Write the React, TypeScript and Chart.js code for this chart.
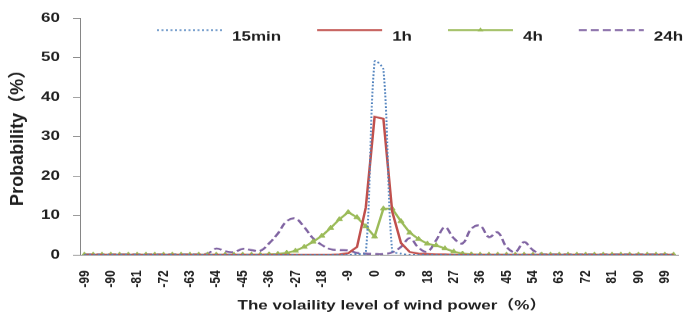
import React, { useEffect, useRef } from 'react';
import { Chart, registerables } from 'chart.js';

Chart.register(...registerables);

// Category values of the x axis (volatility level, %)
const categories = [
  -99, -96, -93, -90, -87, -84, -81, -78, -75, -72, -69, -66, -63, -60, -57, -54, -51, -48, -45, -42,
  -39, -36, -33, -30, -27, -24, -21, -18, -15, -12, -9, -6, -3, 0, 3, 6, 9, 12, 15, 18,
  21, 24, 27, 30, 33, 36, 39, 42, 45, 48, 51, 54, 57, 60, 63, 66, 69, 72, 75, 78,
  81, 84, 87, 90, 93, 96, 99, 102,
];

// Categories that carry a visible tick label
const tickLabels = [-99, -90, -81, -72, -63, -54, -45, -36, -27, -18, -9, 0, 9, 18, 27, 36, 45, 54, 63, 72, 81, 90, 99];

const yTicks = [0, 10, 20, 30, 40, 50, 60];

const series15min = [
  0, 0, 0, 0, 0, 0, 0, 0, 0, 0, 0, 0, 0, 0, 0, 0, 0, 0, 0, 0,
  0, 0, 0, 0, 0, 0, 0, 0, 0, 0, 0, 0.2, 0.5, 49, 47, 1, 0.3, 0, 0, 0,
  0, 0, 0, 0, 0, 0, 0, 0, 0, 0, 0, 0, 0, 0, 0, 0, 0, 0, 0, 0,
  0, 0, 0, 0, 0, 0, 0, 0,
];

const series1h = [
  0, 0, 0, 0, 0, 0, 0, 0, 0, 0, 0, 0, 0, 0, 0, 0, 0, 0, 0, 0,
  0, 0, 0, 0, 0, 0, 0, 0, 0, 0.1, 0.4, 2, 12, 35, 34.5, 11, 3, 0.7, 0.3, 0.2,
  0.1, 0.1, 0, 0, 0, 0, 0, 0, 0, 0, 0, 0, 0, 0, 0, 0, 0, 0, 0, 0,
  0, 0, 0, 0, 0, 0, 0, 0,
];

const series4h = [
  0, 0, 0, 0, 0, 0, 0, 0, 0, 0, 0, 0, 0, 0, 0, 0, 0, 0, 0, 0,
  0, 0.1, 0.2, 0.5, 1.0, 2.0, 3.3, 4.8, 6.8, 9.0, 10.8, 9.5, 7.2, 4.6, 11.7, 11.7, 8.5, 5.6, 4.0, 2.8,
  2.4, 1.6, 0.8, 0.3, 0.1, 0, 0, 0, 0, 0, 0, 0, 0, 0, 0, 0, 0, 0, 0, 0,
  0, 0, 0, 0, 0, 0, 0, 0,
];

const series24h = [
  0.1, 0.1, 0.1, 0.1, 0.1, 0.1, 0.1, 0.1, 0.1, 0.1, 0.1, 0.1, 0.1, 0.1, 0.3, 1.6, 0.9, 0.7, 1.5, 1.2,
  1.0, 2.9, 5.4, 8.5, 9.2, 7.0, 4.2, 2.5, 1.4, 1.2, 1.1, 0.5, 0.3, 0.2, 0.2, 0.6, 2.0, 4.2, 1.8, 0.8,
  3.7, 7.0, 4.2, 2.9, 6.6, 7.4, 4.5, 5.7, 2.0, 0.7, 3.2, 1.2, 0.2, 0.1, 0.1, 0.1, 0.1, 0.1, 0.1, 0.1,
  0.1, 0.1, 0.1, 0.1, 0.1, 0.1, 0.1, 0.1,
];

const seriesNames = ['15min', '1h', '4h', '24h'];
const xTitle = 'The volaility level of wind power（%）';
const yTitle = 'Probability（%）';

const FONT_FAMILY = '"Liberation Sans", Arial, "Noto Sans CJK SC", sans-serif';
const TEXT_COLOR = '#1f1f1f';
const AXIS_COLOR = '#868686';

// Canvas is drawn taller and squeezed vertically, like the source picture
const CSS_W = 688;
const CSS_H = 322;
const DRAW_H = 412;
const SQUASH = CSS_H / DRAW_H;

const legendPlugin = {
  id: 'excelLegend',
  afterDatasetsDraw(chart: any) {
    const ctx = chart.ctx as CanvasRenderingContext2D;
    ctx.save();
    ctx.font = `bold 17px ${FONT_FAMILY}`;
    const lineY = 38.5;
    const textY = 47;
    const lineLen = 65;
    let x = 157;
    chart.data.datasets.forEach((ds: any) => {
      ctx.strokeStyle = ds.borderColor;
      ctx.lineWidth = ds.borderWidth;
      ctx.setLineDash(ds.borderDash || []);
      ctx.beginPath();
      ctx.moveTo(x, lineY);
      ctx.lineTo(x + lineLen, lineY);
      ctx.stroke();
      ctx.setLineDash([]);
      if (ds.pointStyle === 'triangle' && ds.pointRadius > 0) {
        const cx = x + lineLen / 2;
        const r = ds.pointRadius;
        let rad = 0;
        ctx.beginPath();
        ctx.moveTo(cx + Math.sin(rad) * r, lineY - Math.cos(rad) * r);
        rad += (2 * Math.PI) / 3;
        ctx.lineTo(cx + Math.sin(rad) * r, lineY - Math.cos(rad) * r);
        rad += (2 * Math.PI) / 3;
        ctx.lineTo(cx + Math.sin(rad) * r, lineY - Math.cos(rad) * r);
        ctx.closePath();
        ctx.fillStyle = ds.pointBackgroundColor;
        ctx.fill();
      }
      ctx.fillStyle = TEXT_COLOR;
      ctx.textBaseline = 'middle';
      ctx.textAlign = 'left';
      ctx.fillText(ds.label, x + 75, textY);
      x += 75 + ctx.measureText(ds.label).width + 36;
    });
    ctx.restore();
  },
};

const titlesPlugin = {
  id: 'axisTitles',
  afterDraw(chart: any) {
    const ctx = chart.ctx as CanvasRenderingContext2D;
    const area = chart.chartArea;
    ctx.save();
    ctx.fillStyle = TEXT_COLOR;
    ctx.textAlign = 'center';
    ctx.textBaseline = 'middle';
    ctx.font = `bold 17px ${FONT_FAMILY}`;
    ctx.fillText(xTitle, (area.left + area.right) / 2 + 13, 391.5);
    ctx.restore();

    ctx.save();
    ctx.fillStyle = TEXT_COLOR;
    ctx.textAlign = 'center';
    ctx.textBaseline = 'middle';
    ctx.font = `bold 18px ${FONT_FAMILY}`;
    ctx.translate(18, (area.top + area.bottom) / 2 - 4);
    ctx.scale(1, 1 / SQUASH);
    ctx.rotate(-Math.PI / 2);
    ctx.fillText(yTitle, 0, 0);
    ctx.restore();
  },
};

export default function App() {
  const canvasRef = useRef<HTMLCanvasElement>(null);

  useEffect(() => {
    document.body.style.margin = '0';
    const canvas = canvasRef.current;
    if (!canvas) return;
    const chart = new Chart(canvas, {
      type: 'line',
      data: {
        labels: categories.map(String),
        datasets: [
          {
            label: seriesNames[0],
            data: series15min,
            borderColor: '#4F81BD',
            backgroundColor: '#4F81BD',
            borderWidth: 2,
            borderDash: [2, 2.5],
            pointRadius: 0,
            tension: 0.3,
          },
          {
            label: seriesNames[1],
            data: series1h,
            borderColor: '#C0504D',
            backgroundColor: '#C0504D',
            borderWidth: 2.5,
            pointRadius: 0,
            tension: 0,
          },
          {
            label: seriesNames[2],
            data: series4h,
            borderColor: '#9BBB59',
            backgroundColor: '#9BBB59',
            borderWidth: 2.5,
            pointStyle: 'triangle',
            pointRadius: 3.5,
            pointBackgroundColor: '#9BBB59',
            pointBorderColor: '#9BBB59',
            pointBorderWidth: 1,
            tension: 0,
          },
          {
            label: seriesNames[3],
            data: series24h,
            borderColor: '#8064A2',
            backgroundColor: '#8064A2',
            borderWidth: 2.5,
            borderDash: [8, 4],
            pointRadius: 0,
            tension: 0.4,
          },
        ],
      },
      options: {
        responsive: false,
        animation: false,
        devicePixelRatio: 1,
        layout: { padding: { top: 16, left: 4, right: 10, bottom: 0 } },
        plugins: {
          legend: { display: false },
          tooltip: { enabled: false },
        },
        scales: {
          x: {
            type: 'category',
            offset: true,
            grid: { display: false },
            border: { display: true, color: AXIS_COLOR, width: 1 },
            ticks: {
              autoSkip: false,
              maxRotation: 90,
              minRotation: 90,
              padding: 12,
              color: TEXT_COLOR,
              font: { family: FONT_FAMILY, size: 15, weight: 'bold' },
              callback: (_v: any, idx: number) =>
                tickLabels.includes(categories[idx]) ? String(categories[idx]) : '',
            },
            title: { display: false },
            afterFit: (s: any) => {
              s.height = 86;
              s.paddingLeft = 0;
              s.paddingRight = 0;
            },
          },
          y: {
            min: 0,
            max: 60,
            grid: {
              display: true,
              drawOnChartArea: false,
              drawTicks: true,
              tickLength: 7,
              color: AXIS_COLOR,
            },
            border: { display: true, color: AXIS_COLOR, width: 1 },
            afterBuildTicks: (s: any) => {
              s.ticks = yTicks.map((v) => ({ value: v }));
            },
            ticks: {
              padding: 13,
              color: TEXT_COLOR,
              font: { family: FONT_FAMILY, size: 17, weight: 'bold' },
            },
            title: { display: false },
            afterFit: (s: any) => {
              s.width = 76;
            },
          },
        },
      },
      plugins: [legendPlugin, titlesPlugin],
    });
    return () => chart.destroy();
  }, []);

  return (
    <div style={{ width: CSS_W, height: CSS_H, overflow: 'hidden', background: '#fff' }}>
      <canvas
        ref={canvasRef}
        width={CSS_W}
        height={DRAW_H}
        style={{ width: `${CSS_W}px`, height: `${CSS_H}px`, display: 'block' }}
      />
    </div>
  );
}
